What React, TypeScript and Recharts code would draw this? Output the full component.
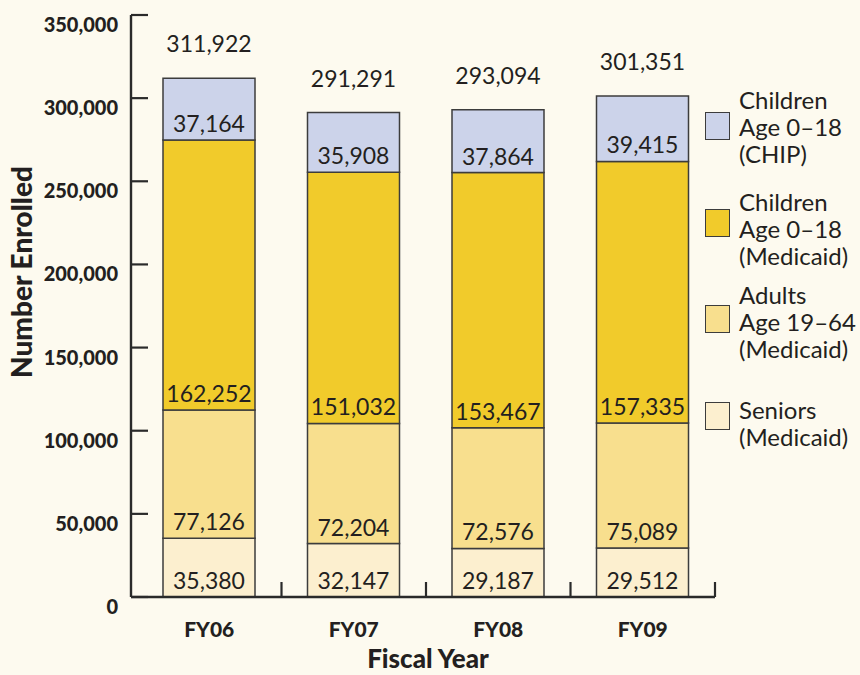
import React from 'react';
import { BarChart, Bar, XAxis, YAxis, LabelList, Legend, Label } from 'recharts';

const years = ['FY06', 'FY07', 'FY08', 'FY09'];
const seniors = [35380, 32147, 29187, 29512];
const adults = [77126, 72204, 72576, 75089];
const childrenMedicaid = [162252, 151032, 153467, 157335];
const childrenChip = [37164, 35908, 37864, 39415];
const totals = [311922, 291291, 293094, 301351];
const yTicks = [0, 50000, 100000, 150000, 200000, 250000, 300000, 350000];

const legendItems = [
  { key: 'chip', lines: ['Children', 'Age 0–18', '(CHIP)'], color: '#CCD3EA' },
  { key: 'childrenMedicaid', lines: ['Children', 'Age 0–18', '(Medicaid)'], color: '#F1CB2B' },
  { key: 'adults', lines: ['Adults', 'Age 19–64', '(Medicaid)'], color: '#F8DF8E' },
  { key: 'seniors', lines: ['Seniors', '(Medicaid)'], color: '#FCEFCF' },
];

const data = years.map((year, i) => ({
  year,
  seniors: seniors[i],
  adults: adults[i],
  childrenMedicaid: childrenMedicaid[i],
  chip: childrenChip[i],
  total: totals[i],
}));

const W = 860;
const H = 675;
const FONT = 'Lato, "Gill Sans", "DejaVu Sans", sans-serif';
const INK = '#231F20';
const AXIS = '#2a2a2a';
const BAR_STROKE = '#3c3c3c';
const PLOT_LEFT = 131;
const PLOT_RIGHT = 715;
const PAD_LEFT = 6;
const BAND = (PLOT_RIGHT - PLOT_LEFT - PAD_LEFT) / years.length;

const fmt = (v: any) => Number(v).toLocaleString('en-US');

const YTick = (props: any) => {
  const { x, y, payload } = props;
  const ax = Number(x);
  const yy = Number(y);
  return (
    <g>
      <line x1={ax} x2={ax + 17} y1={yy} y2={yy} stroke={AXIS} strokeWidth={2.2} />
      <text x={ax - 13} y={yy + 9} textAnchor="end" dominantBaseline="central" fontFamily={FONT} fontWeight={900} fontSize={20} fill={INK}>
        {fmt(payload.value)}
      </text>
    </g>
  );
};

const XTick = (props: any) => {
  const { x, y, payload } = props;
  const xx = Number(x);
  const yy = Number(y);
  return (
    <g>
      <line x1={xx + BAND / 2} x2={xx + BAND / 2} y1={yy} y2={yy - 15} stroke={AXIS} strokeWidth={2.2} />
      <text x={xx} y={yy + 31} textAnchor="middle" dominantBaseline="central" fontFamily={FONT} fontWeight={900} fontSize={21} fill={INK}>
        {payload.value}
      </text>
    </g>
  );
};

const segLabel = (props: any) => {
  const { x, y, width, height, value } = props;
  return (
    <text
      x={Number(x) + Number(width) / 2}
      y={Number(y) + Number(height) - 17}
      textAnchor="middle"
      dominantBaseline="central"
      fontFamily={FONT}
      fontSize={23}
      fill={INK}
    >
      {fmt(value)}
    </text>
  );
};

const totalLabel = (props: any) => {
  const { x, y, width, value } = props;
  return (
    <text
      x={Number(x) + Number(width) / 2}
      y={Number(y) - 35}
      textAnchor="middle"
      dominantBaseline="central"
      fontFamily={FONT}
      fontSize={23}
      fill={INK}
    >
      {fmt(value)}
    </text>
  );
};

const squareTops = [32, 129, 225, 322];
const textTops = [6, 108, 201, 316];

const LegendContent = () => (
  <div style={{ position: 'relative', width: 160, height: 380, fontFamily: FONT, color: INK }}>
    {legendItems.map((it, i) => (
      <React.Fragment key={it.key}>
        <div
          style={{
            position: 'absolute',
            left: 5,
            top: squareTops[i],
            width: 25,
            height: 28,
            boxSizing: 'border-box',
            background: it.color,
            border: `1.5px solid ${BAR_STROKE}`,
          }}
        />
        <div style={{ position: 'absolute', left: 39, top: textTops[i], fontSize: 24, lineHeight: '27px', whiteSpace: 'nowrap' }}>
          {it.lines.map((l) => (
            <div key={l}>{l}</div>
          ))}
        </div>
      </React.Fragment>
    ))}
  </div>
);

export default function App() {
  return (
    <div style={{ position: 'absolute', left: 0, top: 0, width: W, height: H, background: '#FDFAEF', overflow: 'hidden' }}>
      <BarChart width={W} height={H} data={data} margin={{ top: 15, right: W - PLOT_RIGHT, bottom: 0, left: 0 }} barSize={92}>
        <XAxis
          dataKey="year"
          height={78}
          padding={{ left: PAD_LEFT, right: 0 }}
          tickSize={0}
          tickMargin={0}
          tickLine={false}
          axisLine={{ stroke: AXIS, strokeWidth: 2.4 }}
          tick={<XTick />}
          interval={0}
        >
          <Label
            content={() => (
              <text x={428} y={668} textAnchor="middle" fontFamily={FONT} fontWeight={900} fontSize={26} fill={INK}>
                Fiscal Year
              </text>
            )}
          />
        </XAxis>
        <YAxis
          width={PLOT_LEFT}
          domain={[0, 350000]}
          ticks={yTicks}
          interval={0}
          tickSize={0}
          tickMargin={0}
          tickLine={false}
          axisLine={{ stroke: AXIS, strokeWidth: 2.4 }}
          tick={<YTick />}
        >
          <Label
            content={() => (
              <text
                x={32}
                y={272}
                transform="rotate(-90, 32, 272)"
                textAnchor="middle"
                fontFamily={FONT}
                fontWeight={900}
                fontSize={28}
                fill={INK}
              >
                Number Enrolled
              </text>
            )}
          />
        </YAxis>
        <Legend
          layout="horizontal"
          verticalAlign="middle"
          align="center"
          wrapperStyle={{ position: 'absolute', left: 700, top: 80, width: 160, height: 380 }}
          content={<LegendContent />}
        />
        <Bar dataKey="seniors" stackId="a" fill="#FCEFCF" stroke={BAR_STROKE} strokeWidth={1.5} isAnimationActive={false}>
          <LabelList dataKey="seniors" content={segLabel} />
        </Bar>
        <Bar dataKey="adults" stackId="a" fill="#F8DF8E" stroke={BAR_STROKE} strokeWidth={1.5} isAnimationActive={false}>
          <LabelList dataKey="adults" content={segLabel} />
        </Bar>
        <Bar dataKey="childrenMedicaid" stackId="a" fill="#F1CB2B" stroke={BAR_STROKE} strokeWidth={1.5} isAnimationActive={false}>
          <LabelList dataKey="childrenMedicaid" content={segLabel} />
        </Bar>
        <Bar dataKey="chip" stackId="a" fill="#CCD3EA" stroke={BAR_STROKE} strokeWidth={1.5} isAnimationActive={false}>
          <LabelList dataKey="chip" content={segLabel} />
          <LabelList dataKey="total" content={totalLabel} />
        </Bar>
      </BarChart>
    </div>
  );
}
